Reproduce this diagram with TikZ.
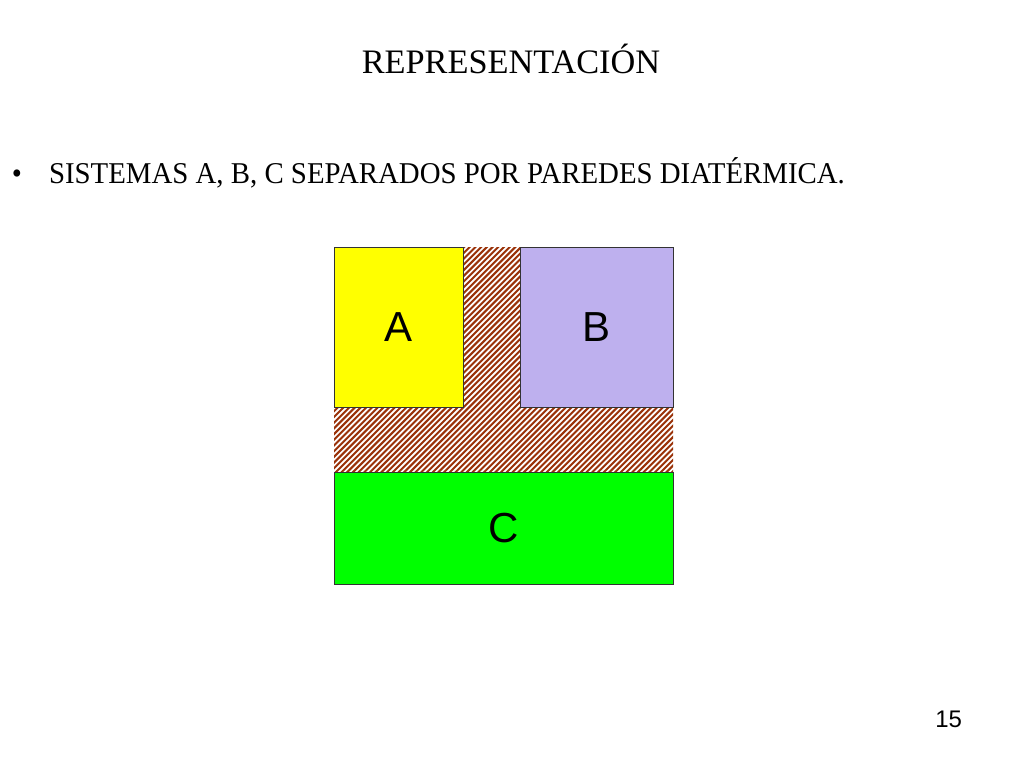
\documentclass[tikz,border=0pt]{standalone}
\usepackage{fontspec}
\setmainfont{Liberation Serif}
\newfontfamily\labelfont{Liberation Sans}
\definecolor{wallbrown}{HTML}{9A3209}
\definecolor{colA}{HTML}{FFFF00}
\definecolor{colB}{HTML}{BEB0EE}
\definecolor{colC}{HTML}{00FF00}

\begin{document}
\begin{tikzpicture}[x=1pt, y=-1pt,
      every node/.style = {inner sep=0pt, outer sep=0pt},
      sys/.style = {draw=black!80, line width=0.8pt, anchor=north west,
        font=\labelfont\fontsize{42}{42}\selectfont},
      hatch/.style = {wallbrown, line width=2pt},
      txt/.style = {anchor=base west, xscale=0.955, font=\fontsize{30.2}{36}\selectfont}]
  \useasboundingbox[fill=white] (0,0) rectangle (1024,768);
  \node[anchor=base, font=\fontsize{34.3}{40}\selectfont] (title) at (511,73) {REPRESENTACIÓN};
  \node[txt] (bullet) at (12,183) {\textbullet};
  \node[txt] (item) at (49,183) {SISTEMAS A, B, C SEPARADOS POR PAREDES DIATÉRMICA.};
  % diathermic walls
  \node[anchor=north west, fill=white, minimum width=339, minimum height=225] (wall) at (334,247) {};
  \begin{scope}
    \clip (wall.north west) rectangle (wall.south east);
    \foreach \i in {0,...,105}
      \draw[hatch] (100+\i*5.7,480) -- ++(240,-240);
  \end{scope}
  \node[sys, fill=colA, minimum width=129, minimum height=160] (sysA) at (334,247) {A};
  \node[sys, fill=colB, minimum width=153, minimum height=160] (sysB) at (520,247) {B};
  \node[sys, fill=colC, minimum width=339, minimum height=112] (sysC) at (334,472) {C};
  \node[anchor=base east, font=\labelfont\fontsize{24}{24}\selectfont] (page) at (962,727) {15};
\end{tikzpicture}
\end{document}
